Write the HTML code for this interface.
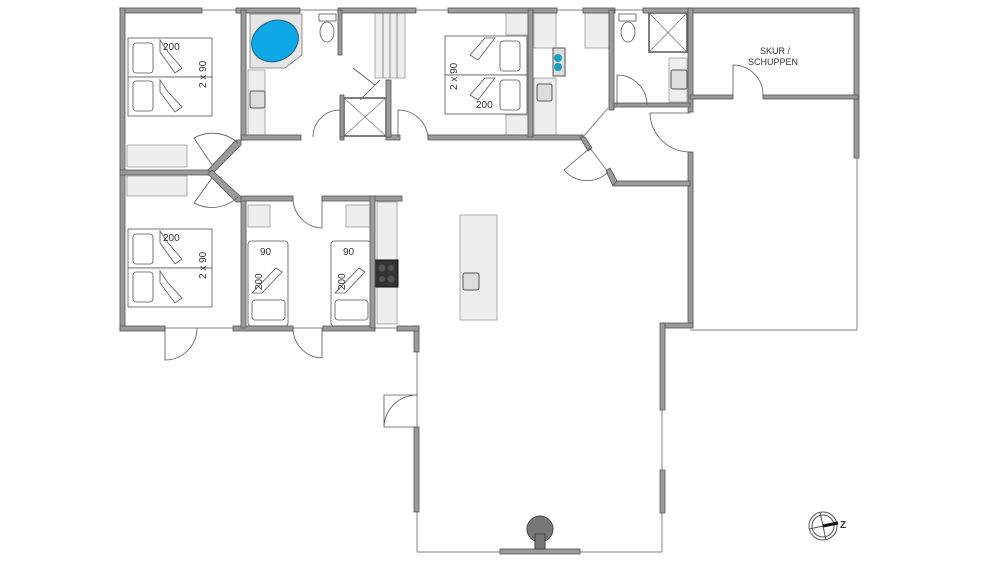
<!DOCTYPE html>
<html><head><meta charset="utf-8"><style>
html,body{margin:0;padding:0;background:#fff;}
svg{display:block;}
text{font-family:"Liberation Sans",sans-serif;fill:#333;}
</style></head><body>
<svg width="1000" height="563" viewBox="0 0 1000 563" xmlns="http://www.w3.org/2000/svg">
<g fill="#eeeeee" stroke="#999" stroke-width="0.8">
<!-- closets -->
<rect x="127" y="145" width="60" height="22"/>
<rect x="127" y="176" width="60" height="20"/>
<rect x="248" y="205" width="22" height="22"/>
<rect x="346" y="205" width="24" height="22"/>
<rect x="377" y="202" width="20" height="122"/>
<rect x="506" y="13" width="22" height="22"/>
<rect x="506" y="115" width="22" height="22"/>
<rect x="534" y="13" width="22" height="35"/>
<rect x="534" y="78" width="22" height="58"/>
<rect x="585" y="13" width="24" height="35"/>
<rect x="669" y="58" width="18" height="44"/>
<rect x="248" y="70" width="17" height="66"/>
<rect x="460" y="215" width="37" height="105"/>
<!-- sauna -->
<rect x="375" y="13" width="30" height="65"/>
</g>
<g stroke="#777" stroke-width="0.8" fill="none">
<line x1="383" y1="13" x2="383" y2="78"/><line x1="390" y1="13" x2="390" y2="78"/><line x1="397" y1="13" x2="397" y2="78"/>
</g>
<!-- bath -->
<polygon points="250,14 302,14 302,55 285,68 250,68" fill="#e5e5e5" stroke="#777" stroke-width="0.8"/>
<ellipse cx="275" cy="41" rx="24" ry="20" transform="rotate(-25 275 41)" fill="#0ea8e6" stroke="#1e5f88" stroke-width="1"/>
<!-- sinks -->
<g fill="#ddd" stroke="#555" stroke-width="1">
<rect x="250" y="91" width="15" height="17" rx="2"/>
<rect x="537" y="84" width="15" height="17" rx="2"/>
<rect x="671" y="70" width="16" height="19" rx="2"/>
<rect x="463" y="273" width="16" height="17" rx="2"/>
</g>
<!-- toilets -->
<g fill="#fff" stroke="#555" stroke-width="0.8">
<rect x="319" y="14" width="17" height="7"/><ellipse cx="327" cy="32" rx="7" ry="10"/>
<rect x="619" y="14" width="17" height="7"/><ellipse cx="628" cy="32" rx="7" ry="10"/>
</g>
<!-- showers -->
<g fill="#fff" stroke="#555" stroke-width="1.5">
<rect x="344" y="98" width="42" height="38"/>
<rect x="649" y="13" width="38" height="39"/>
</g>
<g stroke="#666" stroke-width="0.6"><line x1="344" y1="98" x2="386" y2="136"/><line x1="386" y1="98" x2="344" y2="136"/>
<line x1="649" y1="13" x2="687" y2="52"/><line x1="687" y1="13" x2="649" y2="52"/></g>
<!-- washer -->
<rect x="553" y="48" width="12" height="28" fill="#ddd" stroke="#555"/>
<circle cx="558" cy="58" r="4" fill="#1aa0c0"/><circle cx="558" cy="67" r="4" fill="#1aa0c0"/>
<!-- hob -->
<rect x="374" y="260" width="24" height="27" fill="#333" stroke="#111"/>
<g fill="#555"><circle cx="382" cy="268" r="3.5"/><circle cx="391" cy="268" r="3"/><circle cx="382" cy="279" r="3"/><circle cx="391" cy="279" r="3.5"/></g>
<!-- beds -->
<g fill="#fff" stroke="#555" stroke-width="0.8">
<rect x="128" y="38" width="84" height="39"/><rect x="128" y="77" width="84" height="39"/>
<rect x="128" y="229" width="84" height="39"/><rect x="128" y="268" width="84" height="39"/>
<rect x="445" y="36" width="82" height="39"/><rect x="445" y="75" width="82" height="39"/>
<rect x="248" y="241" width="40" height="85" rx="3"/><rect x="331" y="241" width="40" height="85" rx="3"/>
<rect x="133" y="43" width="20" height="30" rx="3"/><rect x="133" y="81" width="20" height="30" rx="3"/>
<rect x="133" y="234" width="20" height="30" rx="3"/><rect x="133" y="272" width="20" height="30" rx="3"/>
<rect x="500" y="41" width="20" height="30" rx="3"/><rect x="500" y="80" width="20" height="30" rx="3"/>
<rect x="252" y="300" width="33" height="20" rx="3"/><rect x="335" y="300" width="33" height="20" rx="3"/>
</g>
<g fill="none" stroke="#555" stroke-width="0.8">
<path d="M160 40 L160 52 L175 73 L182 68 L168 52 Z"/><path d="M160 80 L160 92 L175 112 L182 107 L168 92 Z"/>
<path d="M160 231 L160 243 L175 264 L182 259 L168 243 Z"/><path d="M160 271 L160 283 L175 303 L182 298 L168 283 Z"/>
<path d="M495 38 L485 38 L470 55 L478 60 Z"/><path d="M495 78 L485 78 L470 95 L478 100 Z"/>
<path d="M252 293 L262 293 L282 272 L276 268 Z"/><path d="M335 293 L345 293 L365 272 L359 268 Z"/>
</g>
<g font-size="10">
<text x="163" y="50">200</text><text x="163" y="241">200</text>
<text x="476" y="108">200</text>
<text x="260" y="255">90</text><text x="343" y="255">90</text>
<text x="0" y="0" transform="translate(206,88) rotate(-90)">2 x 90</text>
<text x="0" y="0" transform="translate(206,279) rotate(-90)">2 x 90</text>
<text x="0" y="0" transform="translate(457,90) rotate(-90)">2 x 90</text>
<text x="0" y="0" transform="translate(262,290) rotate(-90)">200</text>
<text x="0" y="0" transform="translate(345,290) rotate(-90)">200</text>
<text x="760" y="54" font-size="9">SKUR /</text>
<text x="748" y="65" font-size="9">SCHUPPEN</text>
</g>
<!-- thin lines (windows / carport) -->
<g stroke="#999" stroke-width="1.2" fill="none">
<line x1="122" y1="10" x2="858" y2="10"/>
<line x1="857" y1="155" x2="857" y2="330"/>
<line x1="690" y1="330" x2="857" y2="330"/>
<line x1="122" y1="328" x2="397" y2="328"/>
<line x1="417" y1="328" x2="417" y2="552"/>
<line x1="662" y1="328" x2="662" y2="552"/>
<line x1="417" y1="552" x2="662" y2="552"/>
<line x1="608" y1="108" x2="583" y2="137"/><line x1="590" y1="148" x2="608" y2="172"/>
<line x1="238" y1="143" x2="212" y2="168"/><line x1="238" y1="197" x2="212" y2="176"/>
</g>
<!-- walls -->
<g fill="#9a9a9a" stroke="#555" stroke-width="0.8">
<rect x="120" y="8" width="82" height="5"/>
<rect x="236" y="8" width="64" height="5"/>
<rect x="338" y="8" width="78" height="5"/>
<rect x="448" y="8" width="109" height="5"/>
<rect x="583" y="8" width="32" height="5"/>
<rect x="643" y="8" width="216" height="5"/>
<rect x="120" y="8" width="5" height="322"/>
<rect x="854" y="8" width="5" height="150"/>
<rect x="688" y="8" width="5" height="104"/>
<rect x="688" y="152" width="5" height="176"/>
<rect x="662" y="323" width="31" height="5"/>
<rect x="660" y="323" width="5" height="87"/>
<rect x="660" y="470" width="5" height="43"/>
<rect x="500" y="549" width="80" height="5"/>
<rect x="414" y="326" width="5" height="26"/>
<rect x="414" y="427" width="5" height="85"/>
<rect x="397" y="326" width="22" height="5"/>
<rect x="120" y="326" width="45" height="5"/>
<rect x="233" y="326" width="60" height="5"/>
<rect x="323" y="326" width="52" height="5"/>
<rect x="241" y="10" width="5" height="130"/>
<rect x="241" y="197" width="5" height="131"/>
<rect x="241" y="135" width="60" height="5"/>
<rect x="340" y="135" width="4" height="5"/>
<rect x="386" y="135" width="14" height="5"/>
<rect x="428" y="135" width="155" height="5"/>
<rect x="241" y="196" width="52" height="5"/>
<rect x="322" y="196" width="80" height="5"/>
<rect x="370" y="196" width="5" height="132"/>
<rect x="120" y="170" width="90" height="5"/>
<rect x="338" y="10" width="4" height="45"/>
<rect x="386" y="80" width="5" height="57"/>
<rect x="340" y="95" width="4" height="42"/>
<rect x="528" y="10" width="5" height="127"/>
<rect x="609" y="10" width="5" height="100"/>
<rect x="614" y="103" width="76" height="4"/>
<rect x="613" y="181" width="77" height="5"/>
<rect x="690" y="95" width="43" height="4"/>
<rect x="763" y="95" width="95" height="4"/>
<polygon points="236,140 241,140 241,145 212,174 208,170"/>
<polygon points="208,174 212,170 241,197 241,202 236,202"/>
<polygon points="580,137 585,137 592,148 588,151"/>
<polygon points="606,171 610,168 617,181 613,186"/>
</g>
<!-- doors -->
<g fill="none" stroke="#555" stroke-width="0.8">
<path d="M212 165 L194 138 M194 138 A38 38 0 0 1 238 143"/>
<path d="M212 178 L194 203 M194 203 A38 38 0 0 0 238 197"/>
<path d="M590 148 L564 170 M564 170 A30 30 0 0 0 608 172"/>
<path d="M650 113 L690 113 M650 113 A40 40 0 0 0 690 152"/>
<path d="M617 105 L617 75 A30 30 0 0 1 647 105"/>
<path d="M733 97 L733 65 A30 30 0 0 1 763 97"/>
<path d="M313 137 A27 27 0 0 1 340 110 L340 137"/>
<path d="M398 110 L398 137 M398 110 A30 30 0 0 1 428 137"/>
<path d="M353 68 L375 85 M380 80 L360 100"/>
<path d="M293 198 A30 30 0 0 0 322 228 L322 198"/>
<path d="M293 328 A30 30 0 0 0 322 358 L322 328"/>
<path d="M165 328 L165 360 A32 32 0 0 0 197 328"/>
<path d="M417 395 L384 395 L384 427 L417 427 M384 427 A33 33 0 0 1 417 395"/>
</g>
<!-- fireplace -->
<circle cx="540" cy="529" r="13" fill="#777" stroke="#444"/>
<rect x="535" y="534" width="10" height="15" fill="#777" stroke="#444"/>
<!-- compass -->
<g fill="none" stroke="#555" stroke-width="1">
<circle cx="823" cy="526" r="14"/><circle cx="823" cy="526" r="11"/>
<line x1="820" y1="512" x2="826" y2="540"/><line x1="809" y1="529" x2="837" y2="523"/>
<line x1="823" y1="526" x2="838" y2="523" stroke-width="3" stroke="#111"/>
</g>
<text x="840" y="528" font-size="10" font-weight="bold" fill="#111">Z</text>
</svg>
</body></html>
